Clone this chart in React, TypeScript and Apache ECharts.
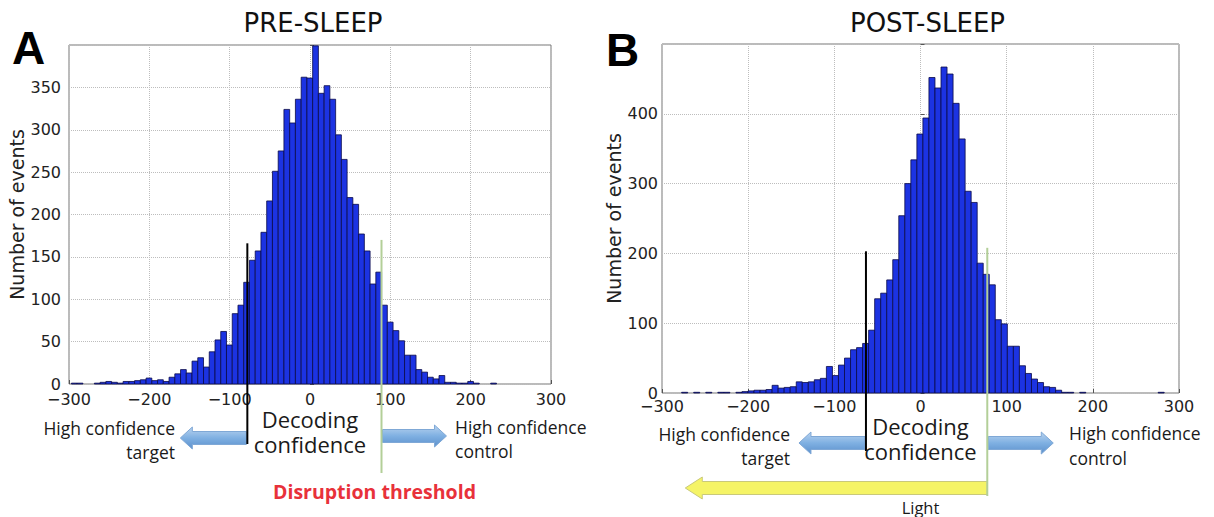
import React, { useEffect, useRef } from "react";
import * as echarts from "echarts";

const W = 1214;
const H = 517;

// Panel A (pre-sleep) histogram
const binStartA = -297;
const binWidthA = 7.15;
const countsA = [
  1, 1, 0, 0, 1, 2, 3, 2, 1, 3,
  3, 4, 5, 7, 4, 5, 3, 8, 12, 17,
  13, 27, 31, 20, 38, 52, 62, 46, 83, 93,
  120, 146, 157, 179, 216, 251, 275, 324, 308, 336,
  362, 361, 399, 343, 352, 336, 294, 265, 220, 212,
  177, 157, 118, 132, 93, 73, 63, 51, 34, 34,
  17, 14, 8, 6, 10, 2, 2, 1, 1, 3,
  1, 0, 0, 1,
];

// Panel B (post-sleep) histogram
const binStartB = -298.2;
const binWidthB = 7;
const countsB = [
  0, 0, 0, 1, 0, 1, 0, 1, 0, 1,
  1, 0, 1, 2, 3, 4, 4, 5, 11, 7,
  8, 9, 16, 15, 16, 19, 21, 38, 25, 40,
  50, 62, 65, 71, 90, 135, 143, 162, 191, 254,
  300, 334, 371, 394, 452, 437, 467, 457, 415, 364,
  289, 273, 186, 170, 155, 105, 99, 67, 67, 39,
  28, 20, 15, 9, 8, 4, 1, 1, 0, 1,
  0, 0, 0, 0, 0, 0, 0, 0, 0, 0,
  0, 0, 1,
];

// thresholds: [x value, top count]
const targetLineA = [-78, 166];
const controlLineA = [89, 170];
const targetLineB = [-63.3, 203];
const controlLineB = [77.5, 208];

const yMaxA = 400;
const yMaxB = 500;

const BAR = "#1c33e2";
const EDGE = "#0a0a48";
const TICK_FONT = "DejaVu Sans";
const ANN_FONT = "Open Sans";

const fmtX = (v: number) => (v < 0 ? "\u2212" + Math.abs(v) : String(v));

function binData(start: number, width: number, counts: number[]) {
  return counts.map((c, i) => [start + i * width, start + (i + 1) * width, c]);
}

function renderBar(_params: any, api: any) {
  const x0 = api.value(0);
  const x1 = api.value(1);
  const y = api.value(2);
  if (!y) return { type: "group", children: [] };
  const p0 = api.coord([x0, y]);
  const p1 = api.coord([x1, 0]);
  return {
    type: "rect",
    shape: { x: p0[0], y: p0[1], width: p1[0] - p0[0], height: p1[1] - p0[1] },
    style: { fill: BAR, stroke: EDGE, lineWidth: 0.8 },
  };
}

function xAxis(gridIndex: number, margin: number) {
  return {
    type: "value",
    gridIndex,
    min: -300,
    max: 300,
    interval: 100,
    axisLine: { show: false },
    axisTick: { show: true, inside: true, length: 4, lineStyle: { color: "#555" } },
    axisLabel: {
      formatter: fmtX,
      fontFamily: TICK_FONT,
      fontSize: 16,
      color: "#222",
      margin,
    },
    splitLine: { show: true, lineStyle: { type: "dotted", color: "#bdbdbd", width: 1 } },
  };
}

function yAxis(gridIndex: number, max: number, interval: number, nameGap: number, margin: number) {
  return {
    type: "value",
    gridIndex,
    min: 0,
    max,
    interval,
    name: "Number of events",
    nameLocation: "middle",
    nameGap,
    nameTextStyle: { fontFamily: TICK_FONT, fontSize: 19, color: "#222" },
    axisLine: { show: false },
    axisTick: { show: true, inside: true, length: 4, lineStyle: { color: "#555" } },
    axisLabel: {
      formatter: (v: number) => (v === max ? "" : String(v)),
      fontFamily: TICK_FONT,
      fontSize: 16,
      color: "#222",
      margin,
    },
    splitLine: { show: true, lineStyle: { type: "dotted", color: "#bdbdbd", width: 1 } },
  };
}

export default function App() {
  const ref = useRef<HTMLDivElement>(null);
  useEffect(() => {
    const chart = echarts.init(ref.current!, null, { renderer: "svg" });
    chart.setOption({
      animation: false,
      backgroundColor: "#fff",
      grid: [
        { left: 69, top: 45, width: 482, height: 339, show: true, borderColor: "#777", borderWidth: 1 },
        { left: 662, top: 44, width: 517, height: 349, show: true, borderColor: "#777", borderWidth: 1 },
      ],
      xAxis: [xAxis(0, 7), xAxis(1, 5)],
      yAxis: [yAxis(0, yMaxA, 50, 40, 8), yAxis(1, yMaxB, 100, 33, 4)],
      series: [
        {
          type: "custom",
          xAxisIndex: 0,
          yAxisIndex: 0,
          renderItem: renderBar,
          encode: { x: [0, 1], y: 2 },
          data: binData(binStartA, binWidthA, countsA),
        },
        {
          type: "custom",
          xAxisIndex: 1,
          yAxisIndex: 1,
          renderItem: renderBar,
          encode: { x: [0, 1], y: 2 },
          data: binData(binStartB, binWidthB, countsB),
        },
      ],
    });

    const px = (g: number, x: number, y: number) =>
      chart.convertToPixel({ gridIndex: g } as any, [x, y]) as number[];

    const text = (
      t: string,
      x: number,
      y: number,
      size: number,
      align: string,
      opts: { weight?: string; color?: string; family?: string } = {}
    ) => ({
      type: "text",
      z: 100,
      x,
      y,
      style: {
        text: t,
        font: `${opts.weight || "normal"} ${size}px "${opts.family || ANN_FONT}"`,
        fill: opts.color || "#1a1a1a",
        align,
        verticalAlign: "middle",
        textAlign: align,
        textVerticalAlign: "middle",
      },
    });

    const blueGrad = () =>
      new echarts.graphic.LinearGradient(0, 0, 0, 1, [
        { offset: 0, color: "#b9d3ef" },
        { offset: 0.5, color: "#7fb0e2" },
        { offset: 1, color: "#5c90cc" },
      ]);

    // arrow polygon from xs to tip xe
    const arrow = (xs: number, xe: number, cy: number, sh: number, hh: number, hl: number, fill: any, stroke: string) => {
      const d = xe < xs ? 1 : -1;
      const hb = xe + d * hl;
      return {
        type: "polygon",
        z: 90,
        shape: {
          points: [
            [xs, cy - sh],
            [hb, cy - sh],
            [hb, cy - hh],
            [xe, cy],
            [hb, cy + hh],
            [hb, cy + sh],
            [xs, cy + sh],
          ],
        },
        style: { fill, stroke, lineWidth: 1 },
      };
    };

    const vline = (g: number, v: number[], bottom: number, color: string) => {
      const p = px(g, v[0], v[1]);
      return {
        type: "line",
        z: 95,
        shape: { x1: p[0], y1: p[1], x2: p[0], y2: bottom },
        style: { stroke: color, lineWidth: 2 },
      };
    };

    const aT = px(0, targetLineA[0], 0)[0];
    const aC = px(0, controlLineA[0], 0)[0];
    const bT = px(1, targetLineB[0], 0)[0];
    const bC = px(1, controlLineB[0], 0)[0];
    const cxA = px(0, 0, 0)[0];
    const cxB = px(1, 0, 0)[0];

    const elements: any[] = [
      text("A", 12, 48, 46, "left", { weight: "bold", family: "Liberation Sans", color: "#000" }),
      text("B", 606, 50, 46, "left", { weight: "bold", family: "Liberation Sans", color: "#000" }),
      text("PRE-SLEEP", cxA + 3, 23, 26, "center", { family: TICK_FONT, color: "#111" }),
      text("POST-SLEEP", cxB + 7, 23, 26, "center", { family: TICK_FONT, color: "#111" }),

      // Panel A annotations
      arrow(aT - 1, aT - 67, 438, 6.5, 11, 12, blueGrad(), "#7fa8d6"),
      arrow(aC + 1, aC + 65, 436, 6.5, 11, 12, blueGrad(), "#7fa8d6"),
      vline(0, targetLineA, 444, "#000"),
      vline(0, controlLineA, 473, "#b3cf98"),
      text("High confidence", 175, 428, 17.5, "right"),
      text("target", 175, 452, 17.5, "right"),
      text("Decoding", cxA, 419, 22, "center"),
      text("confidence", cxA, 444, 22, "center"),
      text("High confidence", 455, 427, 17.5, "left"),
      text("control", 455, 451, 17.5, "left"),
      text("Disruption threshold", aC - 7, 491, 19.5, "center", { weight: "bold", color: "#e8313a" }),

      // Panel B annotations
      arrow(bT - 1, bT - 67, 443, 6.5, 11, 12, blueGrad(), "#7fa8d6"),
      arrow(bC + 1, bC + 66, 443, 6.5, 11, 12, blueGrad(), "#7fa8d6"),
      arrow(bC, bC - 302, 488, 6.5, 11, 17, "#f5f466", "#c9c97a"),
      vline(1, targetLineB, 451, "#000"),
      vline(1, controlLineB, 496, "#b3cf98"),
      text("High confidence", 790, 434, 17.5, "right"),
      text("target", 790, 458, 17.5, "right"),
      text("Decoding", cxB, 426, 22, "center"),
      text("confidence", cxB, 451, 22, "center"),
      text("High confidence", 1069, 433, 17.5, "left"),
      text("control", 1069, 458, 17.5, "left"),
      text("Light", cxB, 507, 16.5, "center"),
    ];
    chart.setOption({ graphic: { elements } });
    return () => chart.dispose();
  }, []);
  return (
    <div
      ref={ref}
      style={{ position: "fixed", left: 0, top: 0, width: W, height: H, background: "#fff" }}
    />
  );
}
